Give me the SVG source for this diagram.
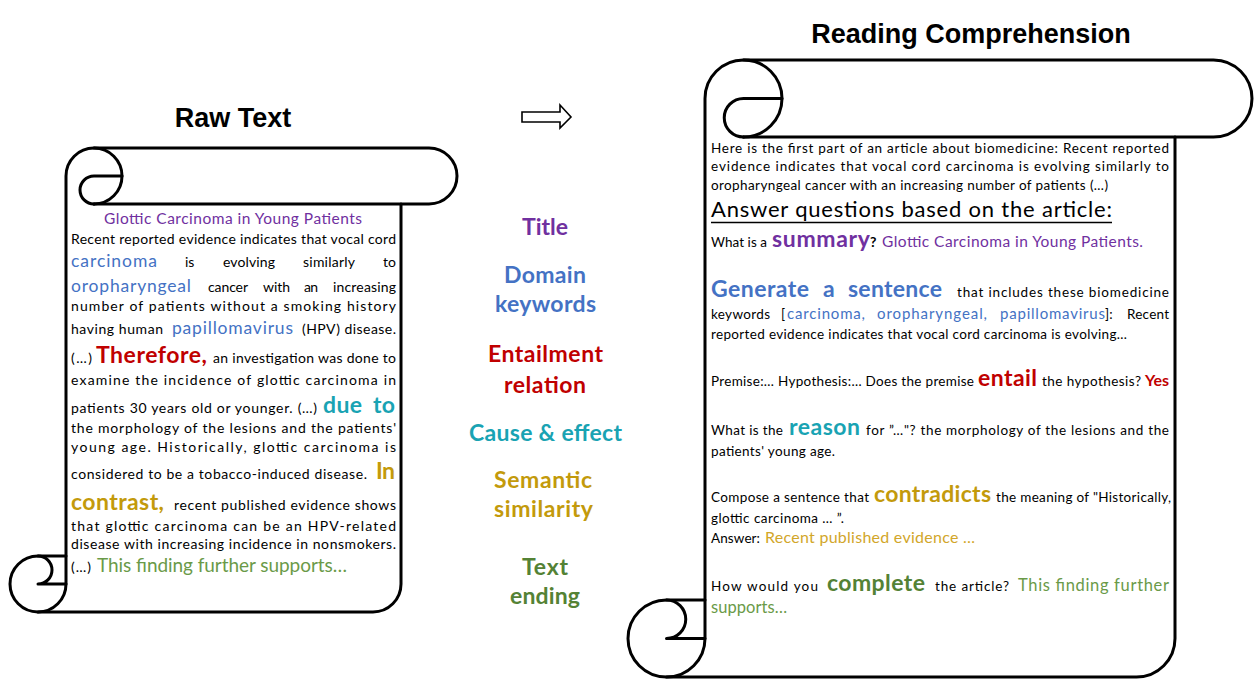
<svg xmlns="http://www.w3.org/2000/svg" width="1259" height="697" viewBox="0 0 1259 697">
<style>
.h{font-family:"Liberation Sans",Arial,sans-serif;font-weight:bold;font-size:27px;fill:#000;text-anchor:middle}
.t{font-family:Lato,"Open Sans",sans-serif;font-size:14px;fill:#000}
.r{font-family:Lato,"Open Sans",sans-serif;font-size:13.5px;fill:#000}
.k{font-family:Lato,"Open Sans",sans-serif;font-size:17.5px}
.kb{font-family:Lato,"Open Sans",sans-serif;font-size:23px;font-weight:bold}
.lab{font-family:Lato,"Open Sans",sans-serif;font-size:23px;font-weight:bold}
.pu{fill:#7030A0}.bl{fill:#4472C4}.rd{fill:#C00000}.te{fill:#19A3B3}.go{fill:#C39A0B}.gl{fill:#D2A62A}.gr{fill:#548235}.gg{fill:#6A9A48}
.sc{fill:none;stroke:#000;stroke-width:3;stroke-linejoin:round;stroke-linecap:round}
</style>
<rect width="1259" height="697" fill="#fff"/>

<g id="title-raw"><text class="h" x="233" y="127">Raw Text</text></g>
<g id="title-rc"><text class="h" x="971" y="43">Reading Comprehension</text></g>

<g id="connectors">
<polygon points="522,112 560,112 560,105 571,117 560,128 560,122 522,122" fill="#fff" stroke="#000" stroke-width="1.6" stroke-linejoin="miter"/>
</g>

<g id="scroll-raw">
<path class="sc" d="M66,584 L66,176 A28,28 0 0 1 94,148 L429,148 A28,28 0 0 1 429,204 L94,204"/>
<path class="sc" d="M94,148 A28,28 0 0 1 94,204"/>
<path class="sc" d="M122,176 L94,176 A14,14 0 0 0 94,204"/>
<path class="sc" d="M401,204 L401,584 A28,28 0 0 1 373,612 L38,612 A28,28 0 0 1 10,584 A28,28 0 0 1 38,556 L66,556"/>
<path class="sc" d="M38,556 A14,14 0 0 1 38,584 L66,584 A28,28 0 0 1 38,612"/>
<text class="t pu" style="font-size:15.5px" x="104" y="224" textLength="258">Glottic Carcinoma in Young Patients</text>
<text class="t" x="71" y="244" textLength="325">Recent reported evidence indicates that vocal cord</text>
<text class="k bl" x="71" y="267" textLength="86">carcinoma</text>
<text class="t" x="185" y="267">is</text>
<text class="t" x="223" y="267" textLength="52">evolving</text>
<text class="t" x="303" y="267" textLength="52">similarly</text>
<text class="t" x="396" y="267" text-anchor="end">to</text>
<text class="k bl" x="71" y="292" textLength="120">oropharyngeal</text>
<text class="t" x="208" y="292" textLength="40">cancer</text>
<text class="t" x="263" y="292" textLength="27">with</text>
<text class="t" x="304" y="292" textLength="14">an</text>
<text class="t" x="333" y="292" textLength="63">increasing</text>
<text class="t" x="71" y="311" textLength="325">number of patients without a smoking history</text>
<text class="t" x="71" y="334" textLength="92">having human</text>
<text class="k bl" x="172" y="334" textLength="121">papillomavirus</text>
<text class="t" x="302" y="334" textLength="94">(HPV) disease.</text>
<text class="t" x="71" y="363" textLength="21">(…)</text>
<text class="kb rd" x="96" y="363" textLength="111">Therefore,</text>
<text class="t" x="213" y="363" textLength="183">an investigation was done to</text>
<text class="t" x="71" y="385" textLength="325">examine the incidence of glottic carcinoma in</text>
<text class="t" x="71" y="413" textLength="246">patients 30 years old  or younger. (…)</text>
<text class="kb te" x="323" y="413" textLength="39">due</text>
<text class="kb te" x="373" y="413" textLength="22">to</text>
<text class="t" x="71" y="433" textLength="325">the morphology of the lesions and the patients'</text>
<text class="t" x="71" y="452" textLength="325">young age. Historically, glottic carcinoma is</text>
<text class="t" x="71" y="479" textLength="296">considered to be a tobacco-induced disease.</text>
<text class="kb go" x="376" y="479" textLength="19">In</text>
<text class="kb go" x="71" y="510" textLength="93">contrast,</text>
<text class="t" x="174" y="510" textLength="222">recent published evidence shows</text>
<text class="t" x="71" y="531" textLength="325">that glottic carcinoma can be an HPV-related</text>
<text class="t" x="71" y="549" textLength="325">disease with increasing incidence in nonsmokers.</text>
<text class="t" x="71" y="572" textLength="20">(…)</text>
<text class="k gg" style="font-size:19px" x="97" y="572" textLength="250">This finding further supports…</text>
</g>

<g id="labels">
<g id="label-title"><text class="lab pu" x="522" y="235" textLength="46">Title</text></g>
<g id="label-domain"><text class="lab bl" x="504" y="283" textLength="82">Domain</text><text class="lab bl" x="495" y="312" textLength="101">keywords</text></g>
<g id="label-entail"><text class="lab rd" x="488" y="362" textLength="115">Entailment</text><text class="lab rd" x="504" y="393" textLength="82">relation</text></g>
<g id="label-cause"><text class="lab te" x="469" y="441" textLength="153">Cause &amp; effect</text></g>
<g id="label-semantic"><text class="lab go" x="494" y="488" textLength="98">Semantic</text><text class="lab go" x="494" y="517" textLength="99">similarity</text></g>
<g id="label-ending"><text class="lab gr" x="522" y="575" textLength="46">Text</text><text class="lab gr" x="510" y="604" textLength="70">ending</text></g>
</g>

<g id="scroll-rc">
<path class="sc" d="M705,638.5 L705,98.5 A38.5,38.5 0 0 1 743.5,60 L1213.5,60 A38.5,38.5 0 0 1 1213.5,137 L743.5,137"/>
<path class="sc" d="M743.5,60 A38.5,38.5 0 0 1 743.5,137"/>
<path class="sc" d="M782,98.5 L743.5,98.5 A19.25,19.25 0 0 0 743.5,137"/>
<path class="sc" d="M1175,137 L1175,638.5 A38.5,38.5 0 0 1 1136.5,677 L666.5,677 A38.5,38.5 0 0 1 628,638.5 A38.5,38.5 0 0 1 666.5,600 L705,600"/>
<path class="sc" d="M666.5,600 A19.25,19.25 0 0 1 666.5,638.5 L705,638.5 A38.5,38.5 0 0 1 666.5,677"/>
<text class="r" x="711" y="153" textLength="458">Here is the first part of an article about biomedicine: Recent reported</text>
<text class="r" x="711" y="171" textLength="458">evidence indicates that vocal cord carcinoma is evolving similarly to</text>
<text class="r" x="711" y="190" textLength="397">oropharyngeal cancer with an increasing number of patients (…)</text>
<text class="r" style="font-size:22px" x="711" y="217" textLength="401">Answer questions based on the article:</text>
<line x1="711" y1="222.5" x2="1112" y2="222.5" stroke="#000" stroke-width="1.6"/>
<text class="r" x="711" y="247" textLength="56">What is a</text>
<text class="kb pu" x="772" y="247" textLength="98">summary</text>
<text class="r" style="font-weight:bold;font-size:14px" x="870" y="247">?</text>
<text class="k pu" style="font-size:15.5px" x="882" y="247" textLength="261">Glottic Carcinoma in Young Patients.</text>
<text class="kb bl" x="711" y="297" textLength="98">Generate</text>
<text class="kb bl" x="823" y="297" textLength="12">a</text>
<text class="kb bl" x="848" y="297" textLength="94">sentence</text>
<text class="r" x="957" y="297" textLength="212">that includes these biomedicine</text>
<text class="r" x="711" y="319" textLength="59">keywords</text>
<text class="r" x="781" y="319">[</text>
<text class="k bl" style="font-size:15px" x="787" y="319" textLength="78">carcinoma,</text>
<text class="k bl" style="font-size:15px" x="877" y="319" textLength="110">oropharyngeal,</text>
<text class="k bl" style="font-size:15px" x="1000" y="319" textLength="105">papillomavirus</text>
<text class="r" x="1105" y="319">]:</text>
<text class="r" x="1127" y="319" textLength="42">Recent</text>
<text class="r" x="711" y="339" textLength="416">reported evidence indicates that vocal cord carcinoma is evolving…</text>
<text class="r" x="711" y="386" textLength="263">Premise:… Hypothesis:… Does the premise</text>
<text class="kb rd" x="978" y="386" textLength="59">entail</text>
<text class="r" x="1042" y="386" textLength="99">the hypothesis?</text>
<text class="kb rd" style="font-size:16px" x="1145" y="386" textLength="24">Yes</text>
<text class="r" x="711" y="435" textLength="72">What is the</text>
<text class="kb te" x="789" y="435" textLength="71">reason</text>
<text class="r" x="866" y="435" textLength="303">for ”…"? the morphology of the lesions and the</text>
<text class="r" x="711" y="456" textLength="124">patients' young age.</text>
<text class="r" x="711" y="502" textLength="158">Compose a sentence that</text>
<text class="kb go" x="874" y="502" textLength="117">contradicts</text>
<text class="r" x="996" y="502" textLength="175">the meaning of "Historically,</text>
<text class="r" x="711" y="523" textLength="133">glottic carcinoma … ”.</text>
<text class="r" x="711" y="543" textLength="49">Answer:</text>
<text class="k gl" style="font-size:16px" x="765" y="543" textLength="210">Recent published evidence …</text>
<text class="r" x="711" y="591" textLength="107">How would you</text>
<text class="kb gr" x="827" y="591" textLength="98">complete</text>
<text class="r" x="935" y="591" textLength="74">the article?</text>
<text class="k gg" style="font-size:16.5px" x="1018" y="591" textLength="151">This finding further</text>
<text class="k gg" style="font-size:16.5px" x="711" y="613" textLength="76">supports…</text>
</g>
</svg>
